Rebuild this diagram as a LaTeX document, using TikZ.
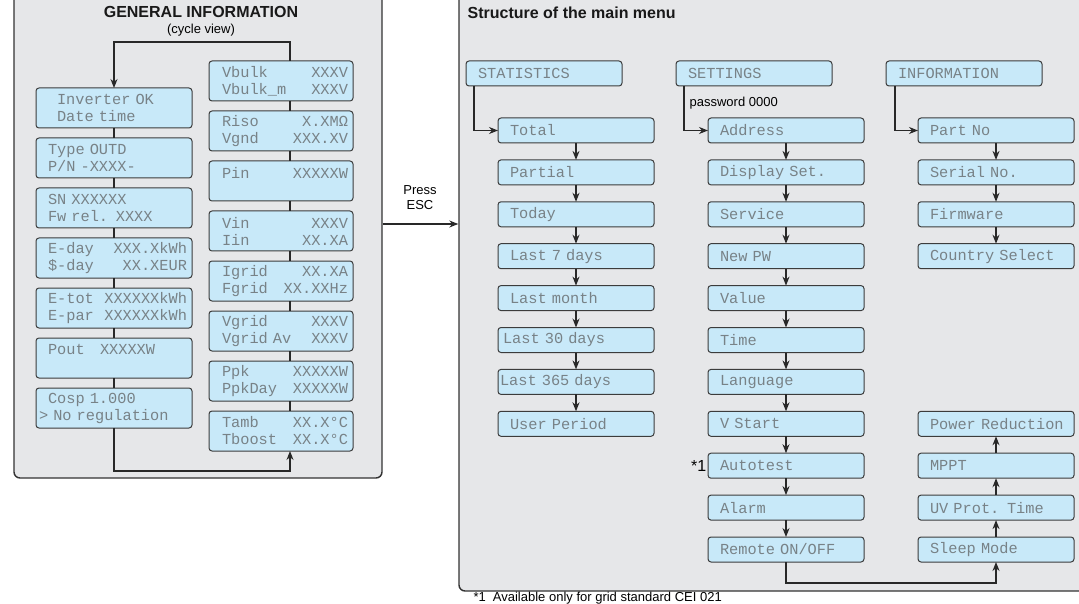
\documentclass[tikz,border=0pt]{standalone}
\usepackage{fontspec}
\setmainfont{Liberation Sans}
\newfontfamily\lcdfont{Liberation Mono}
\usetikzlibrary{arrows.meta,positioning}

\definecolor{panelgray}{RGB}{230,231,233}
\definecolor{lcdblue}{RGB}{200,233,249}
\definecolor{boxline}{RGB}{60,60,60}
\definecolor{lcdtext}{RGB}{120,130,135}
\definecolor{wire}{RGB}{40,40,40}

% one display line: text on the left, value on the right
\newcommand{\lcdline}[3][12pt]{\hspace*{#1}#2\hfill#3\kern5pt}
% display font with a full cell for every space
\newcommand{\lcdsize}{\lcdfont\fontsize{15.3}{17}\selectfont
  \fontdimen2\font=0.6em\fontdimen3\font=0pt\fontdimen4\font=0pt}

\begin{document}
\begin{tikzpicture}[x=1pt,y=-1pt,>={Stealth[length=9pt,width=7pt]},line width=1.3pt,draw=wire,
  node distance=16.9pt,
  panel/.style={draw=black!80,fill=panelgray,rounded corners=6pt,line width=1.4pt,inner sep=0pt},
  lcd/.style={draw=boxline,fill=lcdblue,rounded corners=3pt,line width=1pt,inner xsep=0pt,inner ysep=0pt,
    outer sep=0pt,minimum height=40pt,text width=156pt,align=left,text=lcdtext,font=\lcdsize},
  menu/.style={lcd,minimum height=25pt,execute at begin node={\hspace*{#1}}},
  menu/.default=12pt,
  title/.style={font=\bfseries\fontsize{16}{19}\selectfont,text=black!90}]
  \useasboundingbox (0,0) rectangle (1079,604);

  % panels
  \node[panel,minimum width=368pt,minimum height=488pt] (genpanel) at (198,234) {};
  \node[panel,minimum width=631pt,minimum height=601pt] (menupanel) at (774.5,290.5) {};

  \node[title] (gentitle) at (201,12) {GENERAL INFORMATION};
  \node[font=\fontsize{13}{15}\selectfont] (cycle) at (201,30) {(cycle view)};
  \node[title,anchor=west,inner sep=0pt] (menutitle) at (467,12.5) {Structure of the main menu};

  % general information, left column
  \node[lcd] (inverter) at (114,108) {\lcdline[21pt]{Inverter OK}{}\\ \lcdline[21pt]{Date time}{}};
  \node[lcd,below=10pt of inverter] (type) {\lcdline{Type OUTD}{}\\ \lcdline{P/N -XXXX-}{}};
  \node[lcd,below=10pt of type] (sn) {\lcdline{SN XXXXXX}{}\\ \lcdline{Fw rel. XXXX}{}};
  \node[lcd,below=10pt of sn] (eday) {\lcdline{E-day}{XXX.XkWh}\\ \lcdline{\$-day}{XX.XEUR}};
  \node[lcd,below=10pt of eday] (etot) {\lcdline{E-tot}{XXXXXXkWh}\\ \lcdline{E-par}{XXXXXXkWh}};
  \node[lcd,below=10pt of etot] (pout) {\lcdline{Pout\ \ \ XXXXXW}{}\\ ~};
  \node[lcd,below=10pt of pout] (cosp) {\lcdline{Cosp 1.000}{}\\ \lcdline[3pt]{> No regulation}{}};

  % general information, right column
  \node[lcd,text width=144pt] (vbulk) at (281,81) {\lcdline[13pt]{Vbulk}{XXXV}\\ \lcdline[13pt]{Vbulk\_m}{XXXV}};
  \node[lcd,text width=144pt,below=10pt of vbulk] (riso) {\lcdline[13pt]{Riso}{X.XMΩ}\\ \lcdline[13pt]{Vgnd}{XXX.XV}};
  \node[lcd,text width=144pt,below=10pt of riso] (pin) {\lcdline[13pt]{Pin}{XXXXXW}\\ ~};
  \node[lcd,text width=144pt,below=10pt of pin] (vin) {\lcdline[13pt]{Vin}{XXXV}\\ \lcdline[13pt]{Iin}{XX.XA}};
  \node[lcd,text width=144pt,below=10pt of vin] (igrid) {\lcdline[13pt]{Igrid}{XX.XA}\\ \lcdline[13pt]{Fgrid}{XX.XXHz}};
  \node[lcd,text width=144pt,below=10pt of igrid] (vgrid) {\lcdline[13pt]{Vgrid}{XXXV}\\ \lcdline[13pt]{Vgrid Av}{XXXV}};
  \node[lcd,text width=144pt,below=10pt of vgrid] (ppk) {\lcdline[13pt]{Ppk}{XXXXXW}\\ \lcdline[13pt]{PpkDay}{XXXXXW}};
  \node[lcd,text width=144pt,below=10pt of ppk] (tamb) {\lcdline[13pt]{Tamb}{XX.X°C}\\ \lcdline[13pt]{Tboost}{XX.X°C}};

  \path (inverter) edge (type) (type) edge (sn) (sn) edge (eday)
        (eday) edge (etot) (etot) edge (pout) (pout) edge (cosp);
  \draw ([xshift=9pt]vbulk.south) -- ([xshift=9pt]riso.north)
        ([xshift=9pt]riso.south) -- ([xshift=9pt]pin.north)
        ([xshift=9pt]pin.south) -- ([xshift=9pt]vin.north)
        ([xshift=9pt]vin.south) -- ([xshift=9pt]igrid.north)
        ([xshift=9pt]igrid.south) -- ([xshift=9pt]vgrid.north)
        ([xshift=9pt]vgrid.south) -- ([xshift=9pt]ppk.north)
        ([xshift=9pt]ppk.south) -- ([xshift=9pt]tamb.north);
  \draw[->] ([xshift=9pt]vbulk.north) -- ++(0,-19) -| (inverter.north);
  \draw[->] (cosp.south) -- ++(0,43) -| ([xshift=9pt]tamb.south);

  % press ESC
  \node[align=center,font=\fontsize{13}{15}\selectfont] (pressesc) at (420,198) {Press\\ESC};
  \coordinate (escrow) at (420,224);
  \draw[->] (genpanel.east |- escrow) -- (menupanel.west |- escrow);

  % main menu
  \node[menu] (statistics) at (544,73.5) {STATISTICS};
  \node[menu,right=54pt of statistics] (settings) {SETTINGS};
  \node[menu,right=54pt of settings] (information) {INFORMATION};

  \node[menu,below right=32pt and 32pt of statistics.south west,anchor=north west] (total) {Total};
  \node[menu,below=of total] (partial) {Partial};
  \node[menu,below=of partial] (today) {Today};
  \node[menu,below=of today] (last7) {Last 7 days};
  \node[menu,below=of last7] (lastmonth) {Last month};
  \node[menu=5pt,below=of lastmonth] (last30) {Last 30 days};
  \node[menu=2pt,below=of last30] (last365) {Last 365 days};
  \node[menu,below=of last365] (userperiod) {User Period};

  \node[menu,below right=32pt and 32pt of settings.south west,anchor=north west] (address) {Address};
  \node[menu,below=of address] (display) {Display Set.};
  \node[menu,below=of display] (service) {Service};
  \node[menu,below=of service] (newpw) {New PW};
  \node[menu,below=of newpw] (value) {Value};
  \node[menu,below=of value] (time) {Time};
  \node[menu,below=of time] (language) {Language};
  \node[menu,below=of language] (vstart) {V Start};
  \node[menu,below=of vstart] (autotest) {Autotest};
  \node[menu,below=of autotest] (alarm) {Alarm};
  \node[menu,below=of alarm] (remote) {Remote ON/OFF};

  \node[menu,below right=32pt and 32pt of information.south west,anchor=north west] (partno) {Part No};
  \node[menu,below=of partno] (serialno) {Serial No.};
  \node[menu,below=of serialno] (firmware) {Firmware};
  \node[menu,below=of firmware] (country) {Country Select};

  \node[menu,right=54pt of remote] (sleep) {Sleep Mode};
  \node[menu,above=of sleep] (uvprot) {UV Prot. Time};
  \node[menu,above=of uvprot] (mppt) {MPPT};
  \node[menu,above=of mppt] (powerred) {Power Reduction};

  \node[anchor=west,font=\fontsize{13}{15}\selectfont,inner sep=0pt] (password) at (689,103) {password 0000};
  \node[anchor=east,font=\fontsize{16}{19}\selectfont,inner sep=1pt] (star) at (autotest.west) {*1};

  \draw[->] ([xshift=8pt]statistics.south west) |- (total);
  \draw[->] ([xshift=8pt]settings.south west) |- (address);
  \draw[->] ([xshift=9pt]information.south west) |- (partno);

  \path[->] (total) edge (partial) (partial) edge (today) (today) edge (last7)
            (last7) edge (lastmonth) (lastmonth) edge (last30) (last30) edge (last365)
            (last365) edge (userperiod);
  \path[->] (address) edge (display) (display) edge (service) (service) edge (newpw)
            (newpw) edge (value) (value) edge (time) (time) edge (language)
            (language) edge (vstart) (vstart) edge (autotest) (autotest) edge (alarm)
            (alarm) edge (remote);
  \path[->] (partno) edge (serialno) (serialno) edge (firmware) (firmware) edge (country);
  \path[->] (sleep) edge (uvprot) (uvprot) edge (mppt) (mppt) edge (powerred);
  \draw[->] (remote.south) -- ++(0,21) -| (sleep.south);

  \node[anchor=base west,font=\fontsize{13}{15}\selectfont,inner sep=0pt] (footnote) at (473,601.3)
    {*1\hspace{7pt}Available only for grid standard CEI 021};
\end{tikzpicture}
\end{document}
